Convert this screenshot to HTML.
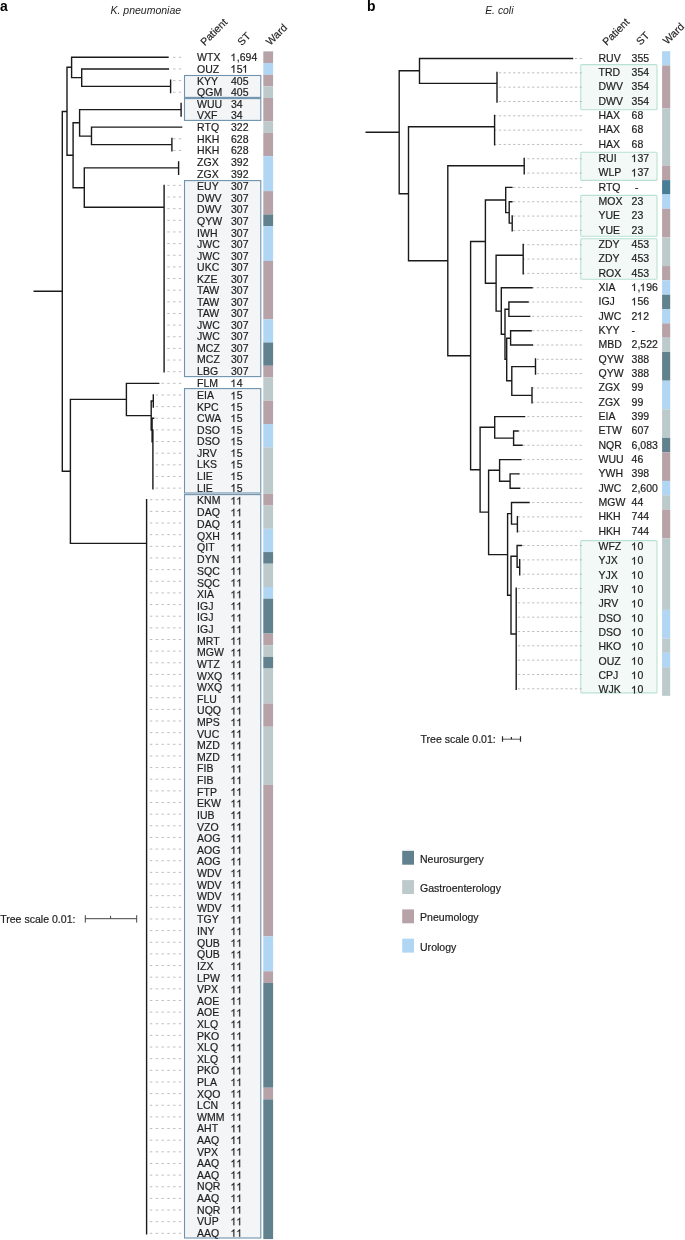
<!DOCTYPE html><html><head><meta charset="utf-8"><style>
html,body{margin:0;padding:0;background:#fff;width:685px;height:1240px;overflow:hidden}
svg{display:block;will-change:transform}
text{font-family:"Liberation Sans", sans-serif}
</style></head><body>
<svg width="685" height="1240" viewBox="0 0 685 1240">
<defs><path id="one" d="M763 0H583V1147Q518 1085 412 1023Q307 961 223 930V1104Q374 1175 487 1276Q600 1377 647 1472H763Z"/></defs>
<text x="-0.1" y="11.0" font-size="13.9" font-weight="bold" fill="#000">a</text>
<text x="366.9" y="11.0" font-size="13.9" font-weight="bold" fill="#000">b</text>
<text x="110.5" y="13.5" font-size="10.5" font-style="italic" fill="#1e1e1e">K. pneumoniae</text>
<text x="485.2" y="13.7" font-size="10.4" font-style="italic" fill="#1e1e1e">E. coli</text>
<text transform="translate(204.70 46.30) rotate(-45)" font-size="10.6" fill="#1e1e1e" stroke="#1e1e1e" stroke-width="0.15">Patient</text>
<text transform="translate(241.70 46.30) rotate(-45)" font-size="10.6" fill="#1e1e1e" stroke="#1e1e1e" stroke-width="0.15">ST</text>
<text transform="translate(270.30 46.00) rotate(-45)" font-size="10.6" fill="#1e1e1e" stroke="#1e1e1e" stroke-width="0.15">Ward</text>
<text transform="translate(606.80 46.10) rotate(-45)" font-size="10.6" fill="#1e1e1e" stroke="#1e1e1e" stroke-width="0.15">Patient</text>
<text transform="translate(640.40 45.80) rotate(-45)" font-size="10.6" fill="#1e1e1e" stroke="#1e1e1e" stroke-width="0.15">ST</text>
<text transform="translate(667.30 45.00) rotate(-45)" font-size="10.6" fill="#1e1e1e" stroke="#1e1e1e" stroke-width="0.15">Ward</text>
<rect x="184.5" y="75.50" width="76.3" height="21.90" fill="#f3f5f7" stroke="#6f93ae" stroke-width="1.1"/>
<rect x="184.5" y="98.60" width="76.3" height="21.80" fill="#f3f5f7" stroke="#6f93ae" stroke-width="1.1"/>
<rect x="184.5" y="180.60" width="76.3" height="196.00" fill="#f3f5f7" stroke="#6f93ae" stroke-width="1.1"/>
<rect x="184.5" y="388.60" width="76.3" height="104.40" fill="#f3f5f7" stroke="#6f93ae" stroke-width="1.1"/>
<rect x="184.5" y="494.60" width="76.3" height="743.40" fill="#f3f5f7" stroke="#6f93ae" stroke-width="1.1"/>
<rect x="580.8" y="64.60" width="76.2" height="45.20" rx="1" fill="#f3f9f7" stroke="#b9e2d2" stroke-width="1.1"/>
<rect x="580.8" y="152.20" width="76.2" height="28.20" rx="1" fill="#f3f9f7" stroke="#b9e2d2" stroke-width="1.1"/>
<rect x="580.8" y="195.40" width="76.2" height="40.80" rx="1" fill="#f3f9f7" stroke="#b9e2d2" stroke-width="1.1"/>
<rect x="580.8" y="238.70" width="76.2" height="40.50" rx="1" fill="#f3f9f7" stroke="#b9e2d2" stroke-width="1.1"/>
<rect x="580.8" y="540.60" width="76.2" height="152.30" rx="1" fill="#f3f9f7" stroke="#b9e2d2" stroke-width="1.1"/>
<path d="M178.90 57.30H181.30M173.10 57.30H175.50M178.90 68.94H181.30M173.10 68.94H175.50M178.90 80.59H181.30M173.10 80.59H175.50M178.90 92.23H181.30M173.10 92.23H175.50M178.90 138.81H181.30M173.10 138.81H175.50M178.90 150.45H181.30M173.10 150.45H175.50M178.90 185.38H181.30M173.10 185.38H175.50M167.30 185.38H169.70M178.90 197.03H181.30M173.10 197.03H175.50M167.30 197.03H169.70M178.90 208.67H181.30M173.10 208.67H175.50M167.30 208.67H169.70M178.90 220.32H181.30M173.10 220.32H175.50M167.30 220.32H169.70M178.90 231.96H181.30M173.10 231.96H175.50M167.30 231.96H169.70M178.90 243.60H181.30M173.10 243.60H175.50M167.30 243.60H169.70M178.90 255.25H181.30M173.10 255.25H175.50M167.30 255.25H169.70M178.90 266.89H181.30M173.10 266.89H175.50M167.30 266.89H169.70M178.90 278.54H181.30M173.10 278.54H175.50M167.30 278.54H169.70M178.90 290.18H181.30M173.10 290.18H175.50M167.30 290.18H169.70M178.90 301.82H181.30M173.10 301.82H175.50M167.30 301.82H169.70M178.90 313.47H181.30M173.10 313.47H175.50M167.30 313.47H169.70M178.90 325.11H181.30M173.10 325.11H175.50M167.30 325.11H169.70M178.90 336.76H181.30M173.10 336.76H175.50M167.30 336.76H169.70M178.90 348.40H181.30M173.10 348.40H175.50M167.30 348.40H169.70M178.90 360.04H181.30M173.10 360.04H175.50M167.30 360.04H169.70M178.90 371.69H181.30M173.10 371.69H175.50M167.30 371.69H169.70M178.90 383.33H181.30M173.10 383.33H175.50M167.30 383.33H169.70M161.50 383.33H163.90M178.90 394.98H181.30M173.10 394.98H175.50M167.30 394.98H169.70M161.50 394.98H163.90M155.70 394.98H158.10M178.90 406.62H181.30M173.10 406.62H175.50M167.30 406.62H169.70M161.50 406.62H163.90M155.70 406.62H158.10M178.90 418.26H181.30M173.10 418.26H175.50M167.30 418.26H169.70M161.50 418.26H163.90M155.70 418.26H158.10M178.90 429.91H181.30M173.10 429.91H175.50M167.30 429.91H169.70M161.50 429.91H163.90M155.70 429.91H158.10M178.90 441.55H181.30M173.10 441.55H175.50M167.30 441.55H169.70M161.50 441.55H163.90M155.70 441.55H158.10M178.90 453.20H181.30M173.10 453.20H175.50M167.30 453.20H169.70M161.50 453.20H163.90M155.70 453.20H158.10M178.90 464.84H181.30M173.10 464.84H175.50M167.30 464.84H169.70M161.50 464.84H163.90M155.70 464.84H158.10M178.90 476.48H181.30M173.10 476.48H175.50M167.30 476.48H169.70M161.50 476.48H163.90M155.70 476.48H158.10M178.90 488.13H181.30M173.10 488.13H175.50M167.30 488.13H169.70M161.50 488.13H163.90M155.70 488.13H158.10M178.90 499.77H181.30M173.10 499.77H175.50M167.30 499.77H169.70M161.50 499.77H163.90M155.70 499.77H158.10M149.90 499.77H152.30M178.90 511.42H181.30M173.10 511.42H175.50M167.30 511.42H169.70M161.50 511.42H163.90M155.70 511.42H158.10M149.90 511.42H152.30M178.90 523.06H181.30M173.10 523.06H175.50M167.30 523.06H169.70M161.50 523.06H163.90M155.70 523.06H158.10M149.90 523.06H152.30M178.90 534.70H181.30M173.10 534.70H175.50M167.30 534.70H169.70M161.50 534.70H163.90M155.70 534.70H158.10M149.90 534.70H152.30M178.90 546.35H181.30M173.10 546.35H175.50M167.30 546.35H169.70M161.50 546.35H163.90M155.70 546.35H158.10M149.90 546.35H152.30M178.90 557.99H181.30M173.10 557.99H175.50M167.30 557.99H169.70M161.50 557.99H163.90M155.70 557.99H158.10M149.90 557.99H152.30M178.90 569.64H181.30M173.10 569.64H175.50M167.30 569.64H169.70M161.50 569.64H163.90M155.70 569.64H158.10M149.90 569.64H152.30M178.90 581.28H181.30M173.10 581.28H175.50M167.30 581.28H169.70M161.50 581.28H163.90M155.70 581.28H158.10M149.90 581.28H152.30M178.90 592.92H181.30M173.10 592.92H175.50M167.30 592.92H169.70M161.50 592.92H163.90M155.70 592.92H158.10M149.90 592.92H152.30M178.90 604.57H181.30M173.10 604.57H175.50M167.30 604.57H169.70M161.50 604.57H163.90M155.70 604.57H158.10M149.90 604.57H152.30M178.90 616.21H181.30M173.10 616.21H175.50M167.30 616.21H169.70M161.50 616.21H163.90M155.70 616.21H158.10M149.90 616.21H152.30M178.90 627.86H181.30M173.10 627.86H175.50M167.30 627.86H169.70M161.50 627.86H163.90M155.70 627.86H158.10M149.90 627.86H152.30M178.90 639.50H181.30M173.10 639.50H175.50M167.30 639.50H169.70M161.50 639.50H163.90M155.70 639.50H158.10M149.90 639.50H152.30M178.90 651.14H181.30M173.10 651.14H175.50M167.30 651.14H169.70M161.50 651.14H163.90M155.70 651.14H158.10M149.90 651.14H152.30M178.90 662.79H181.30M173.10 662.79H175.50M167.30 662.79H169.70M161.50 662.79H163.90M155.70 662.79H158.10M149.90 662.79H152.30M178.90 674.43H181.30M173.10 674.43H175.50M167.30 674.43H169.70M161.50 674.43H163.90M155.70 674.43H158.10M149.90 674.43H152.30M178.90 686.08H181.30M173.10 686.08H175.50M167.30 686.08H169.70M161.50 686.08H163.90M155.70 686.08H158.10M149.90 686.08H152.30M178.90 697.72H181.30M173.10 697.72H175.50M167.30 697.72H169.70M161.50 697.72H163.90M155.70 697.72H158.10M149.90 697.72H152.30M178.90 709.36H181.30M173.10 709.36H175.50M167.30 709.36H169.70M161.50 709.36H163.90M155.70 709.36H158.10M149.90 709.36H152.30M178.90 721.01H181.30M173.10 721.01H175.50M167.30 721.01H169.70M161.50 721.01H163.90M155.70 721.01H158.10M149.90 721.01H152.30M178.90 732.65H181.30M173.10 732.65H175.50M167.30 732.65H169.70M161.50 732.65H163.90M155.70 732.65H158.10M149.90 732.65H152.30M178.90 744.30H181.30M173.10 744.30H175.50M167.30 744.30H169.70M161.50 744.30H163.90M155.70 744.30H158.10M149.90 744.30H152.30M178.90 755.94H181.30M173.10 755.94H175.50M167.30 755.94H169.70M161.50 755.94H163.90M155.70 755.94H158.10M149.90 755.94H152.30M178.90 767.58H181.30M173.10 767.58H175.50M167.30 767.58H169.70M161.50 767.58H163.90M155.70 767.58H158.10M149.90 767.58H152.30M178.90 779.23H181.30M173.10 779.23H175.50M167.30 779.23H169.70M161.50 779.23H163.90M155.70 779.23H158.10M149.90 779.23H152.30M178.90 790.87H181.30M173.10 790.87H175.50M167.30 790.87H169.70M161.50 790.87H163.90M155.70 790.87H158.10M149.90 790.87H152.30M178.90 802.52H181.30M173.10 802.52H175.50M167.30 802.52H169.70M161.50 802.52H163.90M155.70 802.52H158.10M149.90 802.52H152.30M178.90 814.16H181.30M173.10 814.16H175.50M167.30 814.16H169.70M161.50 814.16H163.90M155.70 814.16H158.10M149.90 814.16H152.30M178.90 825.80H181.30M173.10 825.80H175.50M167.30 825.80H169.70M161.50 825.80H163.90M155.70 825.80H158.10M149.90 825.80H152.30M178.90 837.45H181.30M173.10 837.45H175.50M167.30 837.45H169.70M161.50 837.45H163.90M155.70 837.45H158.10M149.90 837.45H152.30M178.90 849.09H181.30M173.10 849.09H175.50M167.30 849.09H169.70M161.50 849.09H163.90M155.70 849.09H158.10M149.90 849.09H152.30M178.90 860.74H181.30M173.10 860.74H175.50M167.30 860.74H169.70M161.50 860.74H163.90M155.70 860.74H158.10M149.90 860.74H152.30M178.90 872.38H181.30M173.10 872.38H175.50M167.30 872.38H169.70M161.50 872.38H163.90M155.70 872.38H158.10M149.90 872.38H152.30M178.90 884.02H181.30M173.10 884.02H175.50M167.30 884.02H169.70M161.50 884.02H163.90M155.70 884.02H158.10M149.90 884.02H152.30M178.90 895.67H181.30M173.10 895.67H175.50M167.30 895.67H169.70M161.50 895.67H163.90M155.70 895.67H158.10M149.90 895.67H152.30M178.90 907.31H181.30M173.10 907.31H175.50M167.30 907.31H169.70M161.50 907.31H163.90M155.70 907.31H158.10M149.90 907.31H152.30M178.90 918.96H181.30M173.10 918.96H175.50M167.30 918.96H169.70M161.50 918.96H163.90M155.70 918.96H158.10M149.90 918.96H152.30M178.90 930.60H181.30M173.10 930.60H175.50M167.30 930.60H169.70M161.50 930.60H163.90M155.70 930.60H158.10M149.90 930.60H152.30M178.90 942.24H181.30M173.10 942.24H175.50M167.30 942.24H169.70M161.50 942.24H163.90M155.70 942.24H158.10M149.90 942.24H152.30M178.90 953.89H181.30M173.10 953.89H175.50M167.30 953.89H169.70M161.50 953.89H163.90M155.70 953.89H158.10M149.90 953.89H152.30M178.90 965.53H181.30M173.10 965.53H175.50M167.30 965.53H169.70M161.50 965.53H163.90M155.70 965.53H158.10M149.90 965.53H152.30M178.90 977.18H181.30M173.10 977.18H175.50M167.30 977.18H169.70M161.50 977.18H163.90M155.70 977.18H158.10M149.90 977.18H152.30M178.90 988.82H181.30M173.10 988.82H175.50M167.30 988.82H169.70M161.50 988.82H163.90M155.70 988.82H158.10M149.90 988.82H152.30M178.90 1000.46H181.30M173.10 1000.46H175.50M167.30 1000.46H169.70M161.50 1000.46H163.90M155.70 1000.46H158.10M149.90 1000.46H152.30M178.90 1012.11H181.30M173.10 1012.11H175.50M167.30 1012.11H169.70M161.50 1012.11H163.90M155.70 1012.11H158.10M149.90 1012.11H152.30M178.90 1023.75H181.30M173.10 1023.75H175.50M167.30 1023.75H169.70M161.50 1023.75H163.90M155.70 1023.75H158.10M149.90 1023.75H152.30M178.90 1035.40H181.30M173.10 1035.40H175.50M167.30 1035.40H169.70M161.50 1035.40H163.90M155.70 1035.40H158.10M149.90 1035.40H152.30M178.90 1047.04H181.30M173.10 1047.04H175.50M167.30 1047.04H169.70M161.50 1047.04H163.90M155.70 1047.04H158.10M149.90 1047.04H152.30M178.90 1058.68H181.30M173.10 1058.68H175.50M167.30 1058.68H169.70M161.50 1058.68H163.90M155.70 1058.68H158.10M149.90 1058.68H152.30M178.90 1070.33H181.30M173.10 1070.33H175.50M167.30 1070.33H169.70M161.50 1070.33H163.90M155.70 1070.33H158.10M149.90 1070.33H152.30M178.90 1081.97H181.30M173.10 1081.97H175.50M167.30 1081.97H169.70M161.50 1081.97H163.90M155.70 1081.97H158.10M149.90 1081.97H152.30M178.90 1093.62H181.30M173.10 1093.62H175.50M167.30 1093.62H169.70M161.50 1093.62H163.90M155.70 1093.62H158.10M149.90 1093.62H152.30M178.90 1105.26H181.30M173.10 1105.26H175.50M167.30 1105.26H169.70M161.50 1105.26H163.90M155.70 1105.26H158.10M149.90 1105.26H152.30M178.90 1116.90H181.30M173.10 1116.90H175.50M167.30 1116.90H169.70M161.50 1116.90H163.90M155.70 1116.90H158.10M149.90 1116.90H152.30M178.90 1128.55H181.30M173.10 1128.55H175.50M167.30 1128.55H169.70M161.50 1128.55H163.90M155.70 1128.55H158.10M149.90 1128.55H152.30M178.90 1140.19H181.30M173.10 1140.19H175.50M167.30 1140.19H169.70M161.50 1140.19H163.90M155.70 1140.19H158.10M149.90 1140.19H152.30M178.90 1151.84H181.30M173.10 1151.84H175.50M167.30 1151.84H169.70M161.50 1151.84H163.90M155.70 1151.84H158.10M149.90 1151.84H152.30M178.90 1163.48H181.30M173.10 1163.48H175.50M167.30 1163.48H169.70M161.50 1163.48H163.90M155.70 1163.48H158.10M149.90 1163.48H152.30M178.90 1175.12H181.30M173.10 1175.12H175.50M167.30 1175.12H169.70M161.50 1175.12H163.90M155.70 1175.12H158.10M149.90 1175.12H152.30M178.90 1186.77H181.30M173.10 1186.77H175.50M167.30 1186.77H169.70M161.50 1186.77H163.90M155.70 1186.77H158.10M149.90 1186.77H152.30M178.90 1198.41H181.30M173.10 1198.41H175.50M167.30 1198.41H169.70M161.50 1198.41H163.90M155.70 1198.41H158.10M149.90 1198.41H152.30M178.90 1210.06H181.30M173.10 1210.06H175.50M167.30 1210.06H169.70M161.50 1210.06H163.90M155.70 1210.06H158.10M149.90 1210.06H152.30M178.90 1221.70H181.30M173.10 1221.70H175.50M167.30 1221.70H169.70M161.50 1221.70H163.90M155.70 1221.70H158.10M149.90 1221.70H152.30M178.90 1233.34H181.30M173.10 1233.34H175.50M167.30 1233.34H169.70M161.50 1233.34H163.90M155.70 1233.34H158.10M149.90 1233.34H152.30M579.60 58.50H581.90M574.85 58.50H577.15M579.60 72.83H581.90M574.85 72.83H577.15M570.10 72.83H572.40M565.35 72.83H567.65M560.60 72.83H562.90M555.85 72.83H558.15M551.10 72.83H553.40M546.35 72.83H548.65M541.60 72.83H543.90M536.85 72.83H539.15M532.10 72.83H534.40M527.35 72.83H529.65M522.60 72.83H524.90M517.85 72.83H520.15M513.10 72.83H515.40M508.35 72.83H510.65M503.60 72.83H505.90M498.85 72.83H501.15M579.60 87.15H581.90M574.85 87.15H577.15M570.10 87.15H572.40M565.35 87.15H567.65M560.60 87.15H562.90M555.85 87.15H558.15M551.10 87.15H553.40M546.35 87.15H548.65M541.60 87.15H543.90M536.85 87.15H539.15M532.10 87.15H534.40M527.35 87.15H529.65M522.60 87.15H524.90M517.85 87.15H520.15M513.10 87.15H515.40M508.35 87.15H510.65M503.60 87.15H505.90M498.85 87.15H501.15M579.60 101.47H581.90M574.85 101.47H577.15M570.10 101.47H572.40M565.35 101.47H567.65M560.60 101.47H562.90M555.85 101.47H558.15M551.10 101.47H553.40M546.35 101.47H548.65M541.60 101.47H543.90M536.85 101.47H539.15M532.10 101.47H534.40M527.35 101.47H529.65M522.60 101.47H524.90M517.85 101.47H520.15M513.10 101.47H515.40M508.35 101.47H510.65M503.60 101.47H505.90M498.85 101.47H501.15M579.60 115.80H581.90M574.85 115.80H577.15M570.10 115.80H572.40M565.35 115.80H567.65M560.60 115.80H562.90M555.85 115.80H558.15M551.10 115.80H553.40M546.35 115.80H548.65M541.60 115.80H543.90M536.85 115.80H539.15M532.10 115.80H534.40M527.35 115.80H529.65M522.60 115.80H524.90M517.85 115.80H520.15M513.10 115.80H515.40M508.35 115.80H510.65M503.60 115.80H505.90M498.85 115.80H501.15M494.10 115.80H496.40M579.60 130.12H581.90M574.85 130.12H577.15M570.10 130.12H572.40M565.35 130.12H567.65M560.60 130.12H562.90M555.85 130.12H558.15M551.10 130.12H553.40M546.35 130.12H548.65M541.60 130.12H543.90M536.85 130.12H539.15M532.10 130.12H534.40M527.35 130.12H529.65M522.60 130.12H524.90M517.85 130.12H520.15M513.10 130.12H515.40M508.35 130.12H510.65M503.60 130.12H505.90M498.85 130.12H501.15M494.10 130.12H496.40M579.60 144.45H581.90M574.85 144.45H577.15M570.10 144.45H572.40M565.35 144.45H567.65M560.60 144.45H562.90M555.85 144.45H558.15M551.10 144.45H553.40M546.35 144.45H548.65M541.60 144.45H543.90M536.85 144.45H539.15M532.10 144.45H534.40M527.35 144.45H529.65M522.60 144.45H524.90M517.85 144.45H520.15M513.10 144.45H515.40M508.35 144.45H510.65M503.60 144.45H505.90M498.85 144.45H501.15M494.10 144.45H496.40M579.60 158.77H581.90M574.85 158.77H577.15M570.10 158.77H572.40M565.35 158.77H567.65M560.60 158.77H562.90M555.85 158.77H558.15M551.10 158.77H553.40M546.35 158.77H548.65M541.60 158.77H543.90M536.85 158.77H539.15M532.10 158.77H534.40M527.35 158.77H529.65M579.60 173.10H581.90M574.85 173.10H577.15M570.10 173.10H572.40M565.35 173.10H567.65M560.60 173.10H562.90M555.85 173.10H558.15M551.10 173.10H553.40M546.35 173.10H548.65M541.60 173.10H543.90M536.85 173.10H539.15M532.10 173.10H534.40M527.35 173.10H529.65M579.60 187.42H581.90M574.85 187.42H577.15M570.10 187.42H572.40M565.35 187.42H567.65M560.60 187.42H562.90M555.85 187.42H558.15M551.10 187.42H553.40M546.35 187.42H548.65M541.60 187.42H543.90M536.85 187.42H539.15M532.10 187.42H534.40M527.35 187.42H529.65M522.60 187.42H524.90M517.85 187.42H520.15M513.10 187.42H515.40M579.60 201.75H581.90M574.85 201.75H577.15M570.10 201.75H572.40M565.35 201.75H567.65M560.60 201.75H562.90M555.85 201.75H558.15M551.10 201.75H553.40M546.35 201.75H548.65M541.60 201.75H543.90M536.85 201.75H539.15M532.10 201.75H534.40M527.35 201.75H529.65M522.60 201.75H524.90M517.85 201.75H520.15M513.10 201.75H515.40M579.60 216.07H581.90M574.85 216.07H577.15M570.10 216.07H572.40M565.35 216.07H567.65M560.60 216.07H562.90M555.85 216.07H558.15M551.10 216.07H553.40M546.35 216.07H548.65M541.60 216.07H543.90M536.85 216.07H539.15M532.10 216.07H534.40M527.35 216.07H529.65M522.60 216.07H524.90M517.85 216.07H520.15M513.10 216.07H515.40M579.60 230.40H581.90M574.85 230.40H577.15M570.10 230.40H572.40M565.35 230.40H567.65M560.60 230.40H562.90M555.85 230.40H558.15M551.10 230.40H553.40M546.35 230.40H548.65M541.60 230.40H543.90M536.85 230.40H539.15M532.10 230.40H534.40M527.35 230.40H529.65M522.60 230.40H524.90M517.85 230.40H520.15M513.10 230.40H515.40M579.60 244.72H581.90M574.85 244.72H577.15M570.10 244.72H572.40M565.35 244.72H567.65M560.60 244.72H562.90M555.85 244.72H558.15M551.10 244.72H553.40M546.35 244.72H548.65M541.60 244.72H543.90M536.85 244.72H539.15M532.10 244.72H534.40M527.35 244.72H529.65M522.60 244.72H524.90M579.60 259.05H581.90M574.85 259.05H577.15M570.10 259.05H572.40M565.35 259.05H567.65M560.60 259.05H562.90M555.85 259.05H558.15M551.10 259.05H553.40M546.35 259.05H548.65M541.60 259.05H543.90M536.85 259.05H539.15M532.10 259.05H534.40M527.35 259.05H529.65M522.60 259.05H524.90M579.60 273.38H581.90M574.85 273.38H577.15M570.10 273.38H572.40M565.35 273.38H567.65M560.60 273.38H562.90M555.85 273.38H558.15M551.10 273.38H553.40M546.35 273.38H548.65M541.60 273.38H543.90M536.85 273.38H539.15M532.10 273.38H534.40M527.35 273.38H529.65M522.60 273.38H524.90M579.60 287.70H581.90M574.85 287.70H577.15M570.10 287.70H572.40M565.35 287.70H567.65M560.60 287.70H562.90M555.85 287.70H558.15M551.10 287.70H553.40M546.35 287.70H548.65M541.60 287.70H543.90M536.85 287.70H539.15M532.10 287.70H534.40M579.60 302.02H581.90M574.85 302.02H577.15M570.10 302.02H572.40M565.35 302.02H567.65M560.60 302.02H562.90M555.85 302.02H558.15M551.10 302.02H553.40M546.35 302.02H548.65M541.60 302.02H543.90M536.85 302.02H539.15M532.10 302.02H534.40M527.35 302.02H529.65M579.60 316.35H581.90M574.85 316.35H577.15M570.10 316.35H572.40M565.35 316.35H567.65M560.60 316.35H562.90M555.85 316.35H558.15M551.10 316.35H553.40M546.35 316.35H548.65M541.60 316.35H543.90M536.85 316.35H539.15M532.10 316.35H534.40M579.60 330.68H581.90M574.85 330.68H577.15M570.10 330.68H572.40M565.35 330.68H567.65M560.60 330.68H562.90M555.85 330.68H558.15M551.10 330.68H553.40M546.35 330.68H548.65M541.60 330.68H543.90M536.85 330.68H539.15M532.10 330.68H534.40M579.60 345.00H581.90M574.85 345.00H577.15M570.10 345.00H572.40M565.35 345.00H567.65M560.60 345.00H562.90M555.85 345.00H558.15M551.10 345.00H553.40M546.35 345.00H548.65M541.60 345.00H543.90M536.85 345.00H539.15M532.10 345.00H534.40M579.60 359.32H581.90M574.85 359.32H577.15M570.10 359.32H572.40M565.35 359.32H567.65M560.60 359.32H562.90M555.85 359.32H558.15M551.10 359.32H553.40M546.35 359.32H548.65M541.60 359.32H543.90M536.85 359.32H539.15M579.60 373.65H581.90M574.85 373.65H577.15M570.10 373.65H572.40M565.35 373.65H567.65M560.60 373.65H562.90M555.85 373.65H558.15M551.10 373.65H553.40M546.35 373.65H548.65M541.60 373.65H543.90M536.85 373.65H539.15M579.60 387.97H581.90M574.85 387.97H577.15M570.10 387.97H572.40M565.35 387.97H567.65M560.60 387.97H562.90M555.85 387.97H558.15M551.10 387.97H553.40M546.35 387.97H548.65M541.60 387.97H543.90M536.85 387.97H539.15M532.10 387.97H534.40M579.60 402.30H581.90M574.85 402.30H577.15M570.10 402.30H572.40M565.35 402.30H567.65M560.60 402.30H562.90M555.85 402.30H558.15M551.10 402.30H553.40M546.35 402.30H548.65M541.60 402.30H543.90M536.85 402.30H539.15M532.10 402.30H534.40M579.60 416.62H581.90M574.85 416.62H577.15M570.10 416.62H572.40M565.35 416.62H567.65M560.60 416.62H562.90M555.85 416.62H558.15M551.10 416.62H553.40M546.35 416.62H548.65M541.60 416.62H543.90M536.85 416.62H539.15M532.10 416.62H534.40M527.35 416.62H529.65M579.60 430.95H581.90M574.85 430.95H577.15M570.10 430.95H572.40M565.35 430.95H567.65M560.60 430.95H562.90M555.85 430.95H558.15M551.10 430.95H553.40M546.35 430.95H548.65M541.60 430.95H543.90M536.85 430.95H539.15M532.10 430.95H534.40M527.35 430.95H529.65M522.60 430.95H524.90M517.85 430.95H520.15M579.60 445.27H581.90M574.85 445.27H577.15M570.10 445.27H572.40M565.35 445.27H567.65M560.60 445.27H562.90M555.85 445.27H558.15M551.10 445.27H553.40M546.35 445.27H548.65M541.60 445.27H543.90M536.85 445.27H539.15M532.10 445.27H534.40M527.35 445.27H529.65M522.60 445.27H524.90M579.60 459.60H581.90M574.85 459.60H577.15M570.10 459.60H572.40M565.35 459.60H567.65M560.60 459.60H562.90M555.85 459.60H558.15M551.10 459.60H553.40M546.35 459.60H548.65M541.60 459.60H543.90M536.85 459.60H539.15M532.10 459.60H534.40M527.35 459.60H529.65M522.60 459.60H524.90M579.60 473.92H581.90M574.85 473.92H577.15M570.10 473.92H572.40M565.35 473.92H567.65M560.60 473.92H562.90M555.85 473.92H558.15M551.10 473.92H553.40M546.35 473.92H548.65M541.60 473.92H543.90M536.85 473.92H539.15M532.10 473.92H534.40M527.35 473.92H529.65M522.60 473.92H524.90M517.85 473.92H520.15M579.60 488.25H581.90M574.85 488.25H577.15M570.10 488.25H572.40M565.35 488.25H567.65M560.60 488.25H562.90M555.85 488.25H558.15M551.10 488.25H553.40M546.35 488.25H548.65M541.60 488.25H543.90M536.85 488.25H539.15M532.10 488.25H534.40M527.35 488.25H529.65M522.60 488.25H524.90M579.60 502.57H581.90M574.85 502.57H577.15M570.10 502.57H572.40M565.35 502.57H567.65M560.60 502.57H562.90M555.85 502.57H558.15M551.10 502.57H553.40M546.35 502.57H548.65M541.60 502.57H543.90M536.85 502.57H539.15M532.10 502.57H534.40M579.60 516.90H581.90M574.85 516.90H577.15M570.10 516.90H572.40M565.35 516.90H567.65M560.60 516.90H562.90M555.85 516.90H558.15M551.10 516.90H553.40M546.35 516.90H548.65M541.60 516.90H543.90M536.85 516.90H539.15M532.10 516.90H534.40M527.35 516.90H529.65M522.60 516.90H524.90M517.85 516.90H520.15M579.60 531.22H581.90M574.85 531.22H577.15M570.10 531.22H572.40M565.35 531.22H567.65M560.60 531.22H562.90M555.85 531.22H558.15M551.10 531.22H553.40M546.35 531.22H548.65M541.60 531.22H543.90M536.85 531.22H539.15M532.10 531.22H534.40M527.35 531.22H529.65M522.60 531.22H524.90M517.85 531.22H520.15M579.60 545.55H581.90M574.85 545.55H577.15M570.10 545.55H572.40M565.35 545.55H567.65M560.60 545.55H562.90M555.85 545.55H558.15M551.10 545.55H553.40M546.35 545.55H548.65M541.60 545.55H543.90M536.85 545.55H539.15M532.10 545.55H534.40M527.35 545.55H529.65M522.60 545.55H524.90M579.60 559.88H581.90M574.85 559.88H577.15M570.10 559.88H572.40M565.35 559.88H567.65M560.60 559.88H562.90M555.85 559.88H558.15M551.10 559.88H553.40M546.35 559.88H548.65M541.60 559.88H543.90M536.85 559.88H539.15M532.10 559.88H534.40M527.35 559.88H529.65M522.60 559.88H524.90M579.60 574.20H581.90M574.85 574.20H577.15M570.10 574.20H572.40M565.35 574.20H567.65M560.60 574.20H562.90M555.85 574.20H558.15M551.10 574.20H553.40M546.35 574.20H548.65M541.60 574.20H543.90M536.85 574.20H539.15M532.10 574.20H534.40M527.35 574.20H529.65M522.60 574.20H524.90M579.60 588.52H581.90M574.85 588.52H577.15M570.10 588.52H572.40M565.35 588.52H567.65M560.60 588.52H562.90M555.85 588.52H558.15M551.10 588.52H553.40M546.35 588.52H548.65M541.60 588.52H543.90M536.85 588.52H539.15M532.10 588.52H534.40M527.35 588.52H529.65M522.60 588.52H524.90M517.85 588.52H520.15M579.60 602.85H581.90M574.85 602.85H577.15M570.10 602.85H572.40M565.35 602.85H567.65M560.60 602.85H562.90M555.85 602.85H558.15M551.10 602.85H553.40M546.35 602.85H548.65M541.60 602.85H543.90M536.85 602.85H539.15M532.10 602.85H534.40M527.35 602.85H529.65M522.60 602.85H524.90M517.85 602.85H520.15M579.60 617.17H581.90M574.85 617.17H577.15M570.10 617.17H572.40M565.35 617.17H567.65M560.60 617.17H562.90M555.85 617.17H558.15M551.10 617.17H553.40M546.35 617.17H548.65M541.60 617.17H543.90M536.85 617.17H539.15M532.10 617.17H534.40M527.35 617.17H529.65M522.60 617.17H524.90M517.85 617.17H520.15M579.60 631.50H581.90M574.85 631.50H577.15M570.10 631.50H572.40M565.35 631.50H567.65M560.60 631.50H562.90M555.85 631.50H558.15M551.10 631.50H553.40M546.35 631.50H548.65M541.60 631.50H543.90M536.85 631.50H539.15M532.10 631.50H534.40M527.35 631.50H529.65M522.60 631.50H524.90M517.85 631.50H520.15M579.60 645.82H581.90M574.85 645.82H577.15M570.10 645.82H572.40M565.35 645.82H567.65M560.60 645.82H562.90M555.85 645.82H558.15M551.10 645.82H553.40M546.35 645.82H548.65M541.60 645.82H543.90M536.85 645.82H539.15M532.10 645.82H534.40M527.35 645.82H529.65M522.60 645.82H524.90M517.85 645.82H520.15M579.60 660.15H581.90M574.85 660.15H577.15M570.10 660.15H572.40M565.35 660.15H567.65M560.60 660.15H562.90M555.85 660.15H558.15M551.10 660.15H553.40M546.35 660.15H548.65M541.60 660.15H543.90M536.85 660.15H539.15M532.10 660.15H534.40M527.35 660.15H529.65M522.60 660.15H524.90M517.85 660.15H520.15M579.60 674.48H581.90M574.85 674.48H577.15M570.10 674.48H572.40M565.35 674.48H567.65M560.60 674.48H562.90M555.85 674.48H558.15M551.10 674.48H553.40M546.35 674.48H548.65M541.60 674.48H543.90M536.85 674.48H539.15M532.10 674.48H534.40M527.35 674.48H529.65M522.60 674.48H524.90M517.85 674.48H520.15M579.60 688.80H581.90M574.85 688.80H577.15M570.10 688.80H572.40M565.35 688.80H567.65M560.60 688.80H562.90M555.85 688.80H558.15M551.10 688.80H553.40M546.35 688.80H548.65M541.60 688.80H543.90M536.85 688.80H539.15M532.10 688.80H534.40M527.35 688.80H529.65M522.60 688.80H524.90M517.85 688.80H520.15" stroke="#bdbdbd" stroke-width="1" fill="none"/>
<rect x="263.30" y="51.40" width="9.80" height="11.64" fill="#b7a2a8"/>
<rect x="263.30" y="63.04" width="9.80" height="11.64" fill="#b0d6f3"/>
<rect x="263.30" y="74.69" width="9.80" height="11.64" fill="#b7a2a8"/>
<rect x="263.30" y="86.33" width="9.80" height="11.64" fill="#bccacb"/>
<rect x="263.30" y="97.98" width="9.80" height="23.29" fill="#b7a2a8"/>
<rect x="263.30" y="121.26" width="9.80" height="11.64" fill="#bccacb"/>
<rect x="263.30" y="132.91" width="9.80" height="23.29" fill="#b7a2a8"/>
<rect x="263.30" y="156.20" width="9.80" height="34.93" fill="#b0d6f3"/>
<rect x="263.30" y="191.13" width="9.80" height="23.29" fill="#b7a2a8"/>
<rect x="263.30" y="214.42" width="9.80" height="11.64" fill="#62818e"/>
<rect x="263.30" y="226.06" width="9.80" height="34.93" fill="#b0d6f3"/>
<rect x="263.30" y="260.99" width="9.80" height="58.22" fill="#b7a2a8"/>
<rect x="263.30" y="319.21" width="9.80" height="23.29" fill="#b0d6f3"/>
<rect x="263.30" y="342.50" width="9.80" height="23.29" fill="#62818e"/>
<rect x="263.30" y="365.79" width="9.80" height="11.64" fill="#b7a2a8"/>
<rect x="263.30" y="377.43" width="9.80" height="23.29" fill="#bccacb"/>
<rect x="263.30" y="400.72" width="9.80" height="23.29" fill="#b7a2a8"/>
<rect x="263.30" y="424.01" width="9.80" height="23.29" fill="#b0d6f3"/>
<rect x="263.30" y="447.30" width="9.80" height="46.58" fill="#bccacb"/>
<rect x="263.30" y="493.87" width="9.80" height="11.64" fill="#b7a2a8"/>
<rect x="263.30" y="505.52" width="9.80" height="23.29" fill="#bccacb"/>
<rect x="263.30" y="528.80" width="9.80" height="23.29" fill="#b0d6f3"/>
<rect x="263.30" y="552.09" width="9.80" height="11.64" fill="#62818e"/>
<rect x="263.30" y="563.74" width="9.80" height="23.29" fill="#bccacb"/>
<rect x="263.30" y="587.02" width="9.80" height="11.64" fill="#b0d6f3"/>
<rect x="263.30" y="598.67" width="9.80" height="34.93" fill="#62818e"/>
<rect x="263.30" y="633.60" width="9.80" height="11.64" fill="#b7a2a8"/>
<rect x="263.30" y="645.24" width="9.80" height="11.64" fill="#bccacb"/>
<rect x="263.30" y="656.89" width="9.80" height="11.64" fill="#62818e"/>
<rect x="263.30" y="668.53" width="9.80" height="34.93" fill="#bccacb"/>
<rect x="263.30" y="703.46" width="9.80" height="23.29" fill="#b7a2a8"/>
<rect x="263.30" y="726.75" width="9.80" height="58.22" fill="#bccacb"/>
<rect x="263.30" y="784.97" width="9.80" height="151.37" fill="#b7a2a8"/>
<rect x="263.30" y="936.34" width="9.80" height="34.93" fill="#b0d6f3"/>
<rect x="263.30" y="971.28" width="9.80" height="11.64" fill="#b7a2a8"/>
<rect x="263.30" y="982.92" width="9.80" height="104.80" fill="#62818e"/>
<rect x="263.30" y="1087.72" width="9.80" height="11.64" fill="#b7a2a8"/>
<rect x="263.30" y="1099.36" width="9.80" height="139.73" fill="#62818e"/>
<rect x="662.10" y="51.20" width="8.10" height="14.33" fill="#b0d6f3"/>
<rect x="662.10" y="65.53" width="8.10" height="42.97" fill="#b7a2a8"/>
<rect x="662.10" y="108.50" width="8.10" height="57.30" fill="#bccacb"/>
<rect x="662.10" y="165.80" width="8.10" height="14.32" fill="#b7a2a8"/>
<rect x="662.10" y="180.12" width="8.10" height="14.32" fill="#487e95"/>
<rect x="662.10" y="194.45" width="8.10" height="14.32" fill="#b0d6f3"/>
<rect x="662.10" y="208.77" width="8.10" height="28.65" fill="#b7a2a8"/>
<rect x="662.10" y="237.43" width="8.10" height="28.65" fill="#bccacb"/>
<rect x="662.10" y="266.07" width="8.10" height="14.32" fill="#b7a2a8"/>
<rect x="662.10" y="280.40" width="8.10" height="14.32" fill="#b0d6f3"/>
<rect x="662.10" y="294.72" width="8.10" height="14.32" fill="#62818e"/>
<rect x="662.10" y="309.05" width="8.10" height="14.33" fill="#b0d6f3"/>
<rect x="662.10" y="323.38" width="8.10" height="14.32" fill="#b7a2a8"/>
<rect x="662.10" y="337.70" width="8.10" height="14.32" fill="#bccacb"/>
<rect x="662.10" y="352.02" width="8.10" height="28.65" fill="#62818e"/>
<rect x="662.10" y="380.67" width="8.10" height="28.65" fill="#b0d6f3"/>
<rect x="662.10" y="409.32" width="8.10" height="28.65" fill="#bccacb"/>
<rect x="662.10" y="437.97" width="8.10" height="14.32" fill="#62818e"/>
<rect x="662.10" y="452.30" width="8.10" height="28.65" fill="#b7a2a8"/>
<rect x="662.10" y="480.95" width="8.10" height="14.32" fill="#b0d6f3"/>
<rect x="662.10" y="495.27" width="8.10" height="14.32" fill="#bccacb"/>
<rect x="662.10" y="509.60" width="8.10" height="28.65" fill="#b7a2a8"/>
<rect x="662.10" y="538.25" width="8.10" height="71.62" fill="#bccacb"/>
<rect x="662.10" y="609.88" width="8.10" height="28.65" fill="#b0d6f3"/>
<rect x="662.10" y="638.52" width="8.10" height="14.33" fill="#bccacb"/>
<rect x="662.10" y="652.85" width="8.10" height="14.33" fill="#b0d6f3"/>
<rect x="662.10" y="667.18" width="8.10" height="28.65" fill="#bccacb"/>
<g font-size="10.50" fill="#1e1e1e" stroke="#1e1e1e" stroke-width="0.20" transform="scale(1 1.000)"><text x="197.1" y="61.00">WTX</text><text x="231.0" y="61.00"> ,694</text><text x="197.1" y="72.65">OUZ</text><text x="231.0" y="72.65"> 5 </text><text x="197.1" y="84.99">KYY</text><text x="231.0" y="84.99">405</text><text x="197.1" y="95.96">QGM</text><text x="231.0" y="95.96">405</text><text x="197.1" y="108.23">WUU</text><text x="231.0" y="108.23">34</text><text x="197.1" y="119.27">VXF</text><text x="231.0" y="119.27">34</text><text x="197.1" y="130.92">RTQ</text><text x="231.0" y="130.92">322</text><text x="197.1" y="142.58">HKH</text><text x="231.0" y="142.58">628</text><text x="197.1" y="154.23">HKH</text><text x="231.0" y="154.23">628</text><text x="197.1" y="165.89">ZGX</text><text x="231.0" y="165.89">392</text><text x="197.1" y="177.54">ZGX</text><text x="231.0" y="177.54">392</text><text x="197.1" y="189.98">EUY</text><text x="231.0" y="189.98">307</text><text x="197.1" y="201.61">DWV</text><text x="231.0" y="201.61">307</text><text x="197.1" y="213.24">DWV</text><text x="231.0" y="213.24">307</text><text x="197.1" y="224.87">QYW</text><text x="231.0" y="224.87">307</text><text x="197.1" y="236.50">IWH</text><text x="231.0" y="236.50">307</text><text x="197.1" y="248.13">JWC</text><text x="231.0" y="248.13">307</text><text x="197.1" y="259.76">JWC</text><text x="231.0" y="259.76">307</text><text x="197.1" y="271.39">UKC</text><text x="231.0" y="271.39">307</text><text x="197.1" y="282.69">KZE</text><text x="231.0" y="282.69">307</text><text x="197.1" y="293.98">TAW</text><text x="231.0" y="293.98">307</text><text x="197.1" y="305.57">TAW</text><text x="231.0" y="305.57">307</text><text x="197.1" y="317.17">TAW</text><text x="231.0" y="317.17">307</text><text x="197.1" y="328.76">JWC</text><text x="231.0" y="328.76">307</text><text x="197.1" y="340.36">JWC</text><text x="231.0" y="340.36">307</text><text x="197.1" y="351.90">MCZ</text><text x="231.0" y="351.90">307</text><text x="197.1" y="363.44">MCZ</text><text x="231.0" y="363.44">307</text><text x="197.1" y="374.99">LBG</text><text x="231.0" y="374.99">307</text><text x="197.1" y="386.93">FLM</text><text x="231.0" y="386.93"> 4</text><text x="197.1" y="399.38">EIA</text><text x="231.0" y="399.38"> 5</text><text x="197.1" y="410.92">KPC</text><text x="231.0" y="410.92"> 5</text><text x="197.1" y="421.96">CWA</text><text x="231.0" y="421.96"> 5</text><text x="197.1" y="433.57">DSO</text><text x="231.0" y="433.57"> 5</text><text x="197.1" y="445.19">DSO</text><text x="231.0" y="445.19"> 5</text><text x="197.1" y="456.80">JRV</text><text x="231.0" y="456.80"> 5</text><text x="197.1" y="468.41">LKS</text><text x="231.0" y="468.41"> 5</text><text x="197.1" y="480.02">LIE</text><text x="231.0" y="480.02"> 5</text><text x="197.1" y="491.63">LIE</text><text x="231.0" y="491.63"> 5</text><text x="197.1" y="504.47">KNM</text><text x="231.0" y="504.47">  </text><text x="197.1" y="516.19">DAQ</text><text x="231.0" y="516.19">  </text><text x="197.1" y="527.91">DAQ</text><text x="231.0" y="527.91">  </text><text x="197.1" y="539.63">QXH</text><text x="231.0" y="539.63">  </text><text x="197.1" y="551.35">QIT</text><text x="231.0" y="551.35">  </text><text x="197.1" y="563.07">DYN</text><text x="231.0" y="563.07">  </text><text x="197.1" y="574.79">SQC</text><text x="231.0" y="574.79">  </text><text x="197.1" y="586.50">SQC</text><text x="231.0" y="586.50">  </text><text x="197.1" y="598.22">XIA</text><text x="231.0" y="598.22">  </text><text x="197.1" y="609.85">IGJ</text><text x="231.0" y="609.85">  </text><text x="197.1" y="621.47">IGJ</text><text x="231.0" y="621.47">  </text><text x="197.1" y="633.09">IGJ</text><text x="231.0" y="633.09">  </text><text x="197.1" y="644.71">MRT</text><text x="231.0" y="644.71">  </text><text x="197.1" y="656.33">MGW</text><text x="231.0" y="656.33">  </text><text x="197.1" y="667.95">WTZ</text><text x="231.0" y="667.95">  </text><text x="197.1" y="679.58">WXQ</text><text x="231.0" y="679.58">  </text><text x="197.1" y="691.20">WXQ</text><text x="231.0" y="691.20">  </text><text x="197.1" y="702.82">FLU</text><text x="231.0" y="702.82">  </text><text x="197.1" y="714.43">UQQ</text><text x="231.0" y="714.43">  </text><text x="197.1" y="726.03">MPS</text><text x="231.0" y="726.03">  </text><text x="197.1" y="737.64">VUC</text><text x="231.0" y="737.64">  </text><text x="197.1" y="749.25">MZD</text><text x="231.0" y="749.25">  </text><text x="197.1" y="760.85">MZD</text><text x="231.0" y="760.85">  </text><text x="197.1" y="772.46">FIB</text><text x="231.0" y="772.46">  </text><text x="197.1" y="784.07">FIB</text><text x="231.0" y="784.07">  </text><text x="197.1" y="795.67">FTP</text><text x="231.0" y="795.67">  </text><text x="197.1" y="807.29">EKW</text><text x="231.0" y="807.29">  </text><text x="197.1" y="818.91">IUB</text><text x="231.0" y="818.91">  </text><text x="197.1" y="830.52">VZO</text><text x="231.0" y="830.52">  </text><text x="197.1" y="842.14">AOG</text><text x="231.0" y="842.14">  </text><text x="197.1" y="853.76">AOG</text><text x="231.0" y="853.76">  </text><text x="197.1" y="865.37">AOG</text><text x="231.0" y="865.37">  </text><text x="197.1" y="876.99">WDV</text><text x="231.0" y="876.99">  </text><text x="197.1" y="888.61">WDV</text><text x="231.0" y="888.61">  </text><text x="197.1" y="900.22">WDV</text><text x="231.0" y="900.22">  </text><text x="197.1" y="911.84">WDV</text><text x="231.0" y="911.84">  </text><text x="197.1" y="923.46">TGY</text><text x="231.0" y="923.46">  </text><text x="197.1" y="935.08">INY</text><text x="231.0" y="935.08">  </text><text x="197.1" y="946.70">QUB</text><text x="231.0" y="946.70">  </text><text x="197.1" y="958.33">QUB</text><text x="231.0" y="958.33">  </text><text x="197.1" y="969.95">IZX</text><text x="231.0" y="969.95">  </text><text x="197.1" y="981.58">LPW</text><text x="231.0" y="981.58">  </text><text x="197.1" y="993.20">VPX</text><text x="231.0" y="993.20">  </text><text x="197.1" y="1004.82">AOE</text><text x="231.0" y="1004.82">  </text><text x="197.1" y="1016.45">AOE</text><text x="231.0" y="1016.45">  </text><text x="197.1" y="1028.07">XLQ</text><text x="231.0" y="1028.07">  </text><text x="197.1" y="1039.70">PKO</text><text x="231.0" y="1039.70">  </text><text x="197.1" y="1051.26">XLQ</text><text x="231.0" y="1051.26">  </text><text x="197.1" y="1062.82">XLQ</text><text x="231.0" y="1062.82">  </text><text x="197.1" y="1074.38">PKO</text><text x="231.0" y="1074.38">  </text><text x="197.1" y="1085.94">PLA</text><text x="231.0" y="1085.94">  </text><text x="197.1" y="1097.50">XQO</text><text x="231.0" y="1097.50">  </text><text x="197.1" y="1109.06">LCN</text><text x="231.0" y="1109.06">  </text><text x="197.1" y="1120.68">WMM</text><text x="231.0" y="1120.68">  </text><text x="197.1" y="1132.29">AHT</text><text x="231.0" y="1132.29">  </text><text x="197.1" y="1143.91">AAQ</text><text x="231.0" y="1143.91">  </text><text x="197.1" y="1155.53">VPX</text><text x="231.0" y="1155.53">  </text><text x="197.1" y="1167.14">AAQ</text><text x="231.0" y="1167.14">  </text><text x="197.1" y="1178.76">AAQ</text><text x="231.0" y="1178.76">  </text><text x="197.1" y="1190.38">NQR</text><text x="231.0" y="1190.38">  </text><text x="197.1" y="1201.99">AAQ</text><text x="231.0" y="1201.99">  </text><text x="197.1" y="1213.61">NQR</text><text x="231.0" y="1213.61">  </text><text x="197.1" y="1225.23">VUP</text><text x="231.0" y="1225.23">  </text><text x="197.1" y="1236.84">AAQ</text><text x="231.0" y="1236.84">  </text></g>
<g font-size="10.50" fill="#1e1e1e" stroke="#1e1e1e" stroke-width="0.20"><text x="598.5" y="61.80">RUV</text><text x="631.6" y="61.80">355</text><text x="598.5" y="76.12">TRD</text><text x="631.6" y="76.12">354</text><text x="598.5" y="90.45">DWV</text><text x="631.6" y="90.45">354</text><text x="598.5" y="104.77">DWV</text><text x="631.6" y="104.77">354</text><text x="598.5" y="119.10">HAX</text><text x="631.6" y="119.10">68</text><text x="598.5" y="133.43">HAX</text><text x="631.6" y="133.43">68</text><text x="598.5" y="147.75">HAX</text><text x="631.6" y="147.75">68</text><text x="598.5" y="162.07">RUI</text><text x="631.6" y="162.07"> 37</text><text x="598.5" y="176.40">WLP</text><text x="631.6" y="176.40"> 37</text><text x="598.5" y="190.72">RTQ</text><text x="635.0" y="190.72">-</text><text x="598.5" y="205.05">MOX</text><text x="631.6" y="205.05">23</text><text x="598.5" y="219.38">YUE</text><text x="631.6" y="219.38">23</text><text x="598.5" y="233.70">YUE</text><text x="631.6" y="233.70">23</text><text x="598.5" y="248.03">ZDY</text><text x="631.6" y="248.03">453</text><text x="598.5" y="262.35">ZDY</text><text x="631.6" y="262.35">453</text><text x="598.5" y="276.68">ROX</text><text x="631.6" y="276.68">453</text><text x="598.5" y="291.00">XIA</text><text x="631.6" y="291.00"> , 96</text><text x="598.5" y="305.32">IGJ</text><text x="631.6" y="305.32"> 56</text><text x="598.5" y="319.65">JWC</text><text x="631.6" y="319.65">2 2</text><text x="598.5" y="333.98">KYY</text><text x="631.6" y="333.98">-</text><text x="598.5" y="348.30">MBD</text><text x="631.6" y="348.30">2,522</text><text x="598.5" y="362.62">QYW</text><text x="631.6" y="362.62">388</text><text x="598.5" y="376.95">QYW</text><text x="631.6" y="376.95">388</text><text x="598.5" y="391.27">ZGX</text><text x="631.6" y="391.27">99</text><text x="598.5" y="405.60">ZGX</text><text x="631.6" y="405.60">99</text><text x="598.5" y="419.93">EIA</text><text x="631.6" y="419.93">399</text><text x="598.5" y="434.25">ETW</text><text x="631.6" y="434.25">607</text><text x="598.5" y="448.57">NQR</text><text x="631.6" y="448.57">6,083</text><text x="598.5" y="462.90">WUU</text><text x="631.6" y="462.90">46</text><text x="598.5" y="477.22">YWH</text><text x="631.6" y="477.22">398</text><text x="598.5" y="491.55">JWC</text><text x="631.6" y="491.55">2,600</text><text x="598.5" y="505.88">MGW</text><text x="631.6" y="505.88">44</text><text x="598.5" y="520.20">HKH</text><text x="631.6" y="520.20">744</text><text x="598.5" y="534.52">HKH</text><text x="631.6" y="534.52">744</text><text x="598.5" y="550.15">WFZ</text><text x="631.6" y="550.15"> 0</text><text x="598.5" y="564.47">YJX</text><text x="631.6" y="564.47"> 0</text><text x="598.5" y="578.80">YJX</text><text x="631.6" y="578.80"> 0</text><text x="598.5" y="593.12">JRV</text><text x="631.6" y="593.12"> 0</text><text x="598.5" y="607.45">JRV</text><text x="631.6" y="607.45"> 0</text><text x="598.5" y="621.77">DSO</text><text x="631.6" y="621.77"> 0</text><text x="598.5" y="636.10">DSO</text><text x="631.6" y="636.10"> 0</text><text x="598.5" y="650.42">HKO</text><text x="631.6" y="650.42"> 0</text><text x="598.5" y="664.75">OUZ</text><text x="631.6" y="664.75"> 0</text><text x="598.5" y="679.07">CPJ</text><text x="631.6" y="679.07"> 0</text><text x="598.5" y="693.40">WJK</text><text x="631.6" y="693.40"> 0</text></g>
<g fill="#1e1e1e" stroke="#1e1e1e" stroke-width="39.0"><use href="#one" transform="translate(230.40 61.00) scale(0.00513 -0.00513)"/><use href="#one" transform="translate(230.40 72.65) scale(0.00513 -0.00513)"/><use href="#one" transform="translate(242.08 72.65) scale(0.00513 -0.00513)"/><use href="#one" transform="translate(230.40 386.93) scale(0.00513 -0.00513)"/><use href="#one" transform="translate(230.40 399.38) scale(0.00513 -0.00513)"/><use href="#one" transform="translate(230.40 410.92) scale(0.00513 -0.00513)"/><use href="#one" transform="translate(230.40 421.96) scale(0.00513 -0.00513)"/><use href="#one" transform="translate(230.40 433.57) scale(0.00513 -0.00513)"/><use href="#one" transform="translate(230.40 445.19) scale(0.00513 -0.00513)"/><use href="#one" transform="translate(230.40 456.80) scale(0.00513 -0.00513)"/><use href="#one" transform="translate(230.40 468.41) scale(0.00513 -0.00513)"/><use href="#one" transform="translate(230.40 480.02) scale(0.00513 -0.00513)"/><use href="#one" transform="translate(230.40 491.63) scale(0.00513 -0.00513)"/><use href="#one" transform="translate(230.40 504.47) scale(0.00513 -0.00513)"/><use href="#one" transform="translate(236.24 504.47) scale(0.00513 -0.00513)"/><use href="#one" transform="translate(230.40 516.19) scale(0.00513 -0.00513)"/><use href="#one" transform="translate(236.24 516.19) scale(0.00513 -0.00513)"/><use href="#one" transform="translate(230.40 527.91) scale(0.00513 -0.00513)"/><use href="#one" transform="translate(236.24 527.91) scale(0.00513 -0.00513)"/><use href="#one" transform="translate(230.40 539.63) scale(0.00513 -0.00513)"/><use href="#one" transform="translate(236.24 539.63) scale(0.00513 -0.00513)"/><use href="#one" transform="translate(230.40 551.35) scale(0.00513 -0.00513)"/><use href="#one" transform="translate(236.24 551.35) scale(0.00513 -0.00513)"/><use href="#one" transform="translate(230.40 563.07) scale(0.00513 -0.00513)"/><use href="#one" transform="translate(236.24 563.07) scale(0.00513 -0.00513)"/><use href="#one" transform="translate(230.40 574.79) scale(0.00513 -0.00513)"/><use href="#one" transform="translate(236.24 574.79) scale(0.00513 -0.00513)"/><use href="#one" transform="translate(230.40 586.50) scale(0.00513 -0.00513)"/><use href="#one" transform="translate(236.24 586.50) scale(0.00513 -0.00513)"/><use href="#one" transform="translate(230.40 598.22) scale(0.00513 -0.00513)"/><use href="#one" transform="translate(236.24 598.22) scale(0.00513 -0.00513)"/><use href="#one" transform="translate(230.40 609.85) scale(0.00513 -0.00513)"/><use href="#one" transform="translate(236.24 609.85) scale(0.00513 -0.00513)"/><use href="#one" transform="translate(230.40 621.47) scale(0.00513 -0.00513)"/><use href="#one" transform="translate(236.24 621.47) scale(0.00513 -0.00513)"/><use href="#one" transform="translate(230.40 633.09) scale(0.00513 -0.00513)"/><use href="#one" transform="translate(236.24 633.09) scale(0.00513 -0.00513)"/><use href="#one" transform="translate(230.40 644.71) scale(0.00513 -0.00513)"/><use href="#one" transform="translate(236.24 644.71) scale(0.00513 -0.00513)"/><use href="#one" transform="translate(230.40 656.33) scale(0.00513 -0.00513)"/><use href="#one" transform="translate(236.24 656.33) scale(0.00513 -0.00513)"/><use href="#one" transform="translate(230.40 667.95) scale(0.00513 -0.00513)"/><use href="#one" transform="translate(236.24 667.95) scale(0.00513 -0.00513)"/><use href="#one" transform="translate(230.40 679.58) scale(0.00513 -0.00513)"/><use href="#one" transform="translate(236.24 679.58) scale(0.00513 -0.00513)"/><use href="#one" transform="translate(230.40 691.20) scale(0.00513 -0.00513)"/><use href="#one" transform="translate(236.24 691.20) scale(0.00513 -0.00513)"/><use href="#one" transform="translate(230.40 702.82) scale(0.00513 -0.00513)"/><use href="#one" transform="translate(236.24 702.82) scale(0.00513 -0.00513)"/><use href="#one" transform="translate(230.40 714.43) scale(0.00513 -0.00513)"/><use href="#one" transform="translate(236.24 714.43) scale(0.00513 -0.00513)"/><use href="#one" transform="translate(230.40 726.03) scale(0.00513 -0.00513)"/><use href="#one" transform="translate(236.24 726.03) scale(0.00513 -0.00513)"/><use href="#one" transform="translate(230.40 737.64) scale(0.00513 -0.00513)"/><use href="#one" transform="translate(236.24 737.64) scale(0.00513 -0.00513)"/><use href="#one" transform="translate(230.40 749.25) scale(0.00513 -0.00513)"/><use href="#one" transform="translate(236.24 749.25) scale(0.00513 -0.00513)"/><use href="#one" transform="translate(230.40 760.85) scale(0.00513 -0.00513)"/><use href="#one" transform="translate(236.24 760.85) scale(0.00513 -0.00513)"/><use href="#one" transform="translate(230.40 772.46) scale(0.00513 -0.00513)"/><use href="#one" transform="translate(236.24 772.46) scale(0.00513 -0.00513)"/><use href="#one" transform="translate(230.40 784.07) scale(0.00513 -0.00513)"/><use href="#one" transform="translate(236.24 784.07) scale(0.00513 -0.00513)"/><use href="#one" transform="translate(230.40 795.67) scale(0.00513 -0.00513)"/><use href="#one" transform="translate(236.24 795.67) scale(0.00513 -0.00513)"/><use href="#one" transform="translate(230.40 807.29) scale(0.00513 -0.00513)"/><use href="#one" transform="translate(236.24 807.29) scale(0.00513 -0.00513)"/><use href="#one" transform="translate(230.40 818.91) scale(0.00513 -0.00513)"/><use href="#one" transform="translate(236.24 818.91) scale(0.00513 -0.00513)"/><use href="#one" transform="translate(230.40 830.52) scale(0.00513 -0.00513)"/><use href="#one" transform="translate(236.24 830.52) scale(0.00513 -0.00513)"/><use href="#one" transform="translate(230.40 842.14) scale(0.00513 -0.00513)"/><use href="#one" transform="translate(236.24 842.14) scale(0.00513 -0.00513)"/><use href="#one" transform="translate(230.40 853.76) scale(0.00513 -0.00513)"/><use href="#one" transform="translate(236.24 853.76) scale(0.00513 -0.00513)"/><use href="#one" transform="translate(230.40 865.37) scale(0.00513 -0.00513)"/><use href="#one" transform="translate(236.24 865.37) scale(0.00513 -0.00513)"/><use href="#one" transform="translate(230.40 876.99) scale(0.00513 -0.00513)"/><use href="#one" transform="translate(236.24 876.99) scale(0.00513 -0.00513)"/><use href="#one" transform="translate(230.40 888.61) scale(0.00513 -0.00513)"/><use href="#one" transform="translate(236.24 888.61) scale(0.00513 -0.00513)"/><use href="#one" transform="translate(230.40 900.22) scale(0.00513 -0.00513)"/><use href="#one" transform="translate(236.24 900.22) scale(0.00513 -0.00513)"/><use href="#one" transform="translate(230.40 911.84) scale(0.00513 -0.00513)"/><use href="#one" transform="translate(236.24 911.84) scale(0.00513 -0.00513)"/><use href="#one" transform="translate(230.40 923.46) scale(0.00513 -0.00513)"/><use href="#one" transform="translate(236.24 923.46) scale(0.00513 -0.00513)"/><use href="#one" transform="translate(230.40 935.08) scale(0.00513 -0.00513)"/><use href="#one" transform="translate(236.24 935.08) scale(0.00513 -0.00513)"/><use href="#one" transform="translate(230.40 946.70) scale(0.00513 -0.00513)"/><use href="#one" transform="translate(236.24 946.70) scale(0.00513 -0.00513)"/><use href="#one" transform="translate(230.40 958.33) scale(0.00513 -0.00513)"/><use href="#one" transform="translate(236.24 958.33) scale(0.00513 -0.00513)"/><use href="#one" transform="translate(230.40 969.95) scale(0.00513 -0.00513)"/><use href="#one" transform="translate(236.24 969.95) scale(0.00513 -0.00513)"/><use href="#one" transform="translate(230.40 981.58) scale(0.00513 -0.00513)"/><use href="#one" transform="translate(236.24 981.58) scale(0.00513 -0.00513)"/><use href="#one" transform="translate(230.40 993.20) scale(0.00513 -0.00513)"/><use href="#one" transform="translate(236.24 993.20) scale(0.00513 -0.00513)"/><use href="#one" transform="translate(230.40 1004.82) scale(0.00513 -0.00513)"/><use href="#one" transform="translate(236.24 1004.82) scale(0.00513 -0.00513)"/><use href="#one" transform="translate(230.40 1016.45) scale(0.00513 -0.00513)"/><use href="#one" transform="translate(236.24 1016.45) scale(0.00513 -0.00513)"/><use href="#one" transform="translate(230.40 1028.07) scale(0.00513 -0.00513)"/><use href="#one" transform="translate(236.24 1028.07) scale(0.00513 -0.00513)"/><use href="#one" transform="translate(230.40 1039.70) scale(0.00513 -0.00513)"/><use href="#one" transform="translate(236.24 1039.70) scale(0.00513 -0.00513)"/><use href="#one" transform="translate(230.40 1051.26) scale(0.00513 -0.00513)"/><use href="#one" transform="translate(236.24 1051.26) scale(0.00513 -0.00513)"/><use href="#one" transform="translate(230.40 1062.82) scale(0.00513 -0.00513)"/><use href="#one" transform="translate(236.24 1062.82) scale(0.00513 -0.00513)"/><use href="#one" transform="translate(230.40 1074.38) scale(0.00513 -0.00513)"/><use href="#one" transform="translate(236.24 1074.38) scale(0.00513 -0.00513)"/><use href="#one" transform="translate(230.40 1085.94) scale(0.00513 -0.00513)"/><use href="#one" transform="translate(236.24 1085.94) scale(0.00513 -0.00513)"/><use href="#one" transform="translate(230.40 1097.50) scale(0.00513 -0.00513)"/><use href="#one" transform="translate(236.24 1097.50) scale(0.00513 -0.00513)"/><use href="#one" transform="translate(230.40 1109.06) scale(0.00513 -0.00513)"/><use href="#one" transform="translate(236.24 1109.06) scale(0.00513 -0.00513)"/><use href="#one" transform="translate(230.40 1120.68) scale(0.00513 -0.00513)"/><use href="#one" transform="translate(236.24 1120.68) scale(0.00513 -0.00513)"/><use href="#one" transform="translate(230.40 1132.29) scale(0.00513 -0.00513)"/><use href="#one" transform="translate(236.24 1132.29) scale(0.00513 -0.00513)"/><use href="#one" transform="translate(230.40 1143.91) scale(0.00513 -0.00513)"/><use href="#one" transform="translate(236.24 1143.91) scale(0.00513 -0.00513)"/><use href="#one" transform="translate(230.40 1155.53) scale(0.00513 -0.00513)"/><use href="#one" transform="translate(236.24 1155.53) scale(0.00513 -0.00513)"/><use href="#one" transform="translate(230.40 1167.14) scale(0.00513 -0.00513)"/><use href="#one" transform="translate(236.24 1167.14) scale(0.00513 -0.00513)"/><use href="#one" transform="translate(230.40 1178.76) scale(0.00513 -0.00513)"/><use href="#one" transform="translate(236.24 1178.76) scale(0.00513 -0.00513)"/><use href="#one" transform="translate(230.40 1190.38) scale(0.00513 -0.00513)"/><use href="#one" transform="translate(236.24 1190.38) scale(0.00513 -0.00513)"/><use href="#one" transform="translate(230.40 1201.99) scale(0.00513 -0.00513)"/><use href="#one" transform="translate(236.24 1201.99) scale(0.00513 -0.00513)"/><use href="#one" transform="translate(230.40 1213.61) scale(0.00513 -0.00513)"/><use href="#one" transform="translate(236.24 1213.61) scale(0.00513 -0.00513)"/><use href="#one" transform="translate(230.40 1225.23) scale(0.00513 -0.00513)"/><use href="#one" transform="translate(236.24 1225.23) scale(0.00513 -0.00513)"/><use href="#one" transform="translate(230.40 1236.84) scale(0.00513 -0.00513)"/><use href="#one" transform="translate(236.24 1236.84) scale(0.00513 -0.00513)"/><use href="#one" transform="translate(631.00 162.07) scale(0.00513 -0.00513)"/><use href="#one" transform="translate(631.00 176.40) scale(0.00513 -0.00513)"/><use href="#one" transform="translate(631.00 291.00) scale(0.00513 -0.00513)"/><use href="#one" transform="translate(639.76 291.00) scale(0.00513 -0.00513)"/><use href="#one" transform="translate(631.00 305.32) scale(0.00513 -0.00513)"/><use href="#one" transform="translate(636.84 319.65) scale(0.00513 -0.00513)"/><use href="#one" transform="translate(631.00 550.15) scale(0.00513 -0.00513)"/><use href="#one" transform="translate(631.00 564.47) scale(0.00513 -0.00513)"/><use href="#one" transform="translate(631.00 578.80) scale(0.00513 -0.00513)"/><use href="#one" transform="translate(631.00 593.12) scale(0.00513 -0.00513)"/><use href="#one" transform="translate(631.00 607.45) scale(0.00513 -0.00513)"/><use href="#one" transform="translate(631.00 621.77) scale(0.00513 -0.00513)"/><use href="#one" transform="translate(631.00 636.10) scale(0.00513 -0.00513)"/><use href="#one" transform="translate(631.00 650.42) scale(0.00513 -0.00513)"/><use href="#one" transform="translate(631.00 664.75) scale(0.00513 -0.00513)"/><use href="#one" transform="translate(631.00 679.07) scale(0.00513 -0.00513)"/><use href="#one" transform="translate(631.00 693.40) scale(0.00513 -0.00513)"/></g>
<path d="M34.20 291.30H62.30M62.30 111.50V471.20M62.30 111.50H67.00M67.00 67.30V155.20M67.00 67.30H71.60M71.60 57.30V77.60M71.60 57.30H168.00M71.60 77.60H81.70M81.70 68.94V86.40M81.70 68.94H168.40M81.70 86.40H170.60M170.60 80.19V92.63M67.00 155.20H73.10M73.10 122.80V187.80M73.10 122.80H79.60M79.60 109.60V136.10M79.60 109.60H181.10M181.10 103.48V116.12M79.60 136.10H91.50M91.50 127.16V144.60M91.50 127.16H181.60M91.50 144.60H171.90M171.90 138.51V150.85M73.10 187.80H84.30M84.30 167.90V207.30M84.30 167.90H178.60M178.60 161.90V174.34M84.30 207.30H164.10M164.10 185.38V371.69M62.30 471.20H70.40M70.40 399.40V543.40M70.40 399.40H126.40M126.40 383.33V415.60M126.40 383.33H158.70M126.40 415.60H151.20M151.20 401.00V430.00M151.20 401.00H153.30M153.30 394.98V407.12M152.10 418.30V441.80M152.10 418.30H153.60M152.90 430.00V488.73M70.40 543.40H146.60M146.60 499.77V1233.74M366.20 132.30H399.20M399.20 70.80V193.80M399.20 70.80H419.50M419.50 58.50V83.40M419.50 58.50H572.50M419.50 83.40H497.00M497.00 72.53V101.97M399.20 193.80H408.50M408.50 126.70V260.80M408.50 126.70H494.60M494.60 115.50V144.85M408.50 260.80H447.80M447.80 165.70V355.80M447.80 165.70H524.20M524.20 158.57V173.70M447.80 355.80H470.60M470.60 241.50V469.70M470.60 241.50H485.40M485.40 200.00V283.30M485.40 200.00H505.70M505.70 187.42V212.60M505.70 187.42H511.90M505.70 212.60H509.20M509.20 201.75V223.10M509.20 201.75H511.90M509.20 223.10H512.20M512.20 215.88V230.90M485.40 283.30H496.10M496.10 255.20V311.10M496.10 255.20H523.20M523.20 244.53V273.88M496.10 311.10H501.30M501.30 287.70V334.20M501.30 287.70H532.00M501.30 334.20H505.00M505.00 309.30V359.20M505.00 309.30H508.90M508.90 302.02V316.35M508.90 302.02H528.00M508.90 316.35H529.70M505.00 359.20H506.70M506.70 338.20V380.80M506.70 338.20H510.60M510.60 330.68V345.00M510.60 330.68H531.10M510.60 345.00H532.30M506.70 380.80H511.80M511.80 366.60V395.40M511.80 366.60H535.50M535.50 359.02V374.15M511.80 395.40H532.00M532.00 387.77V402.80M470.60 469.70H480.10M480.10 427.20V512.10M480.10 427.20H494.70M494.70 416.62V438.10M494.70 416.62H524.60M494.70 438.10H513.60M513.60 430.95V445.27M513.60 430.95H518.00M513.60 445.27H522.00M480.10 512.10H488.60M488.60 470.20V554.60M488.60 470.20H499.60M499.60 459.60V481.20M499.60 459.60H520.90M499.60 481.20H510.10M510.10 473.92V488.25M510.10 473.92H518.80M510.10 488.25H519.70M488.60 554.60H507.60M507.60 513.60V595.20M507.60 513.60H511.50M511.50 502.57V524.10M511.50 502.57H529.00M511.50 524.10H517.40M517.40 516.70V531.72M507.60 595.20H511.00M511.00 556.30V634.00M511.00 556.30H517.10M517.10 545.55V567.30M517.10 545.55H521.50M517.10 567.30H519.70M519.70 559.67V574.70M511.00 634.00H516.20M516.20 588.23V689.20" stroke="#1a1a1a" stroke-width="1.4" fill="none" stroke-linecap="square"/>
<text x="0.2" y="922.7" font-size="10.55" fill="#1e1e1e" stroke="#1e1e1e" stroke-width="0.2">Tree scale 0.01:</text>
<path d="M85.3 918.7H136.7M85.3 915.2V922.6M136.7 915.2V922.6M110.6 915.8V918.7" stroke="#444" stroke-width="1" fill="none"/>
<text x="420.5" y="742.8" font-size="10.55" fill="#1e1e1e" stroke="#1e1e1e" stroke-width="0.2">Tree scale 0.01:</text>
<path d="M502.5 739.2H520.5" stroke="#666" stroke-width="1.1" fill="none"/>
<path d="M502.5 736.2V741.8M520.5 736.2V741.8M511.4 737.0V739.2" stroke="#2a2a2a" stroke-width="1.2" fill="none"/>
<rect x="402.2" y="850.80" width="11.8" height="13.9" fill="#62818e"/>
<text x="420" y="862.70" font-size="10.55" fill="#1e1e1e" stroke="#1e1e1e" stroke-width="0.2">Neurosurgery</text>
<rect x="402.2" y="880.10" width="11.8" height="13.9" fill="#bccacb"/>
<text x="420" y="892.00" font-size="10.55" fill="#1e1e1e" stroke="#1e1e1e" stroke-width="0.2">Gastroenterology</text>
<rect x="402.2" y="909.40" width="11.8" height="13.9" fill="#b7a2a8"/>
<text x="420" y="921.30" font-size="10.55" fill="#1e1e1e" stroke="#1e1e1e" stroke-width="0.2">Pneumology</text>
<rect x="402.2" y="938.70" width="11.8" height="13.9" fill="#b0d6f3"/>
<text x="420" y="950.60" font-size="10.55" fill="#1e1e1e" stroke="#1e1e1e" stroke-width="0.2">Urology</text>
</svg></body></html>
